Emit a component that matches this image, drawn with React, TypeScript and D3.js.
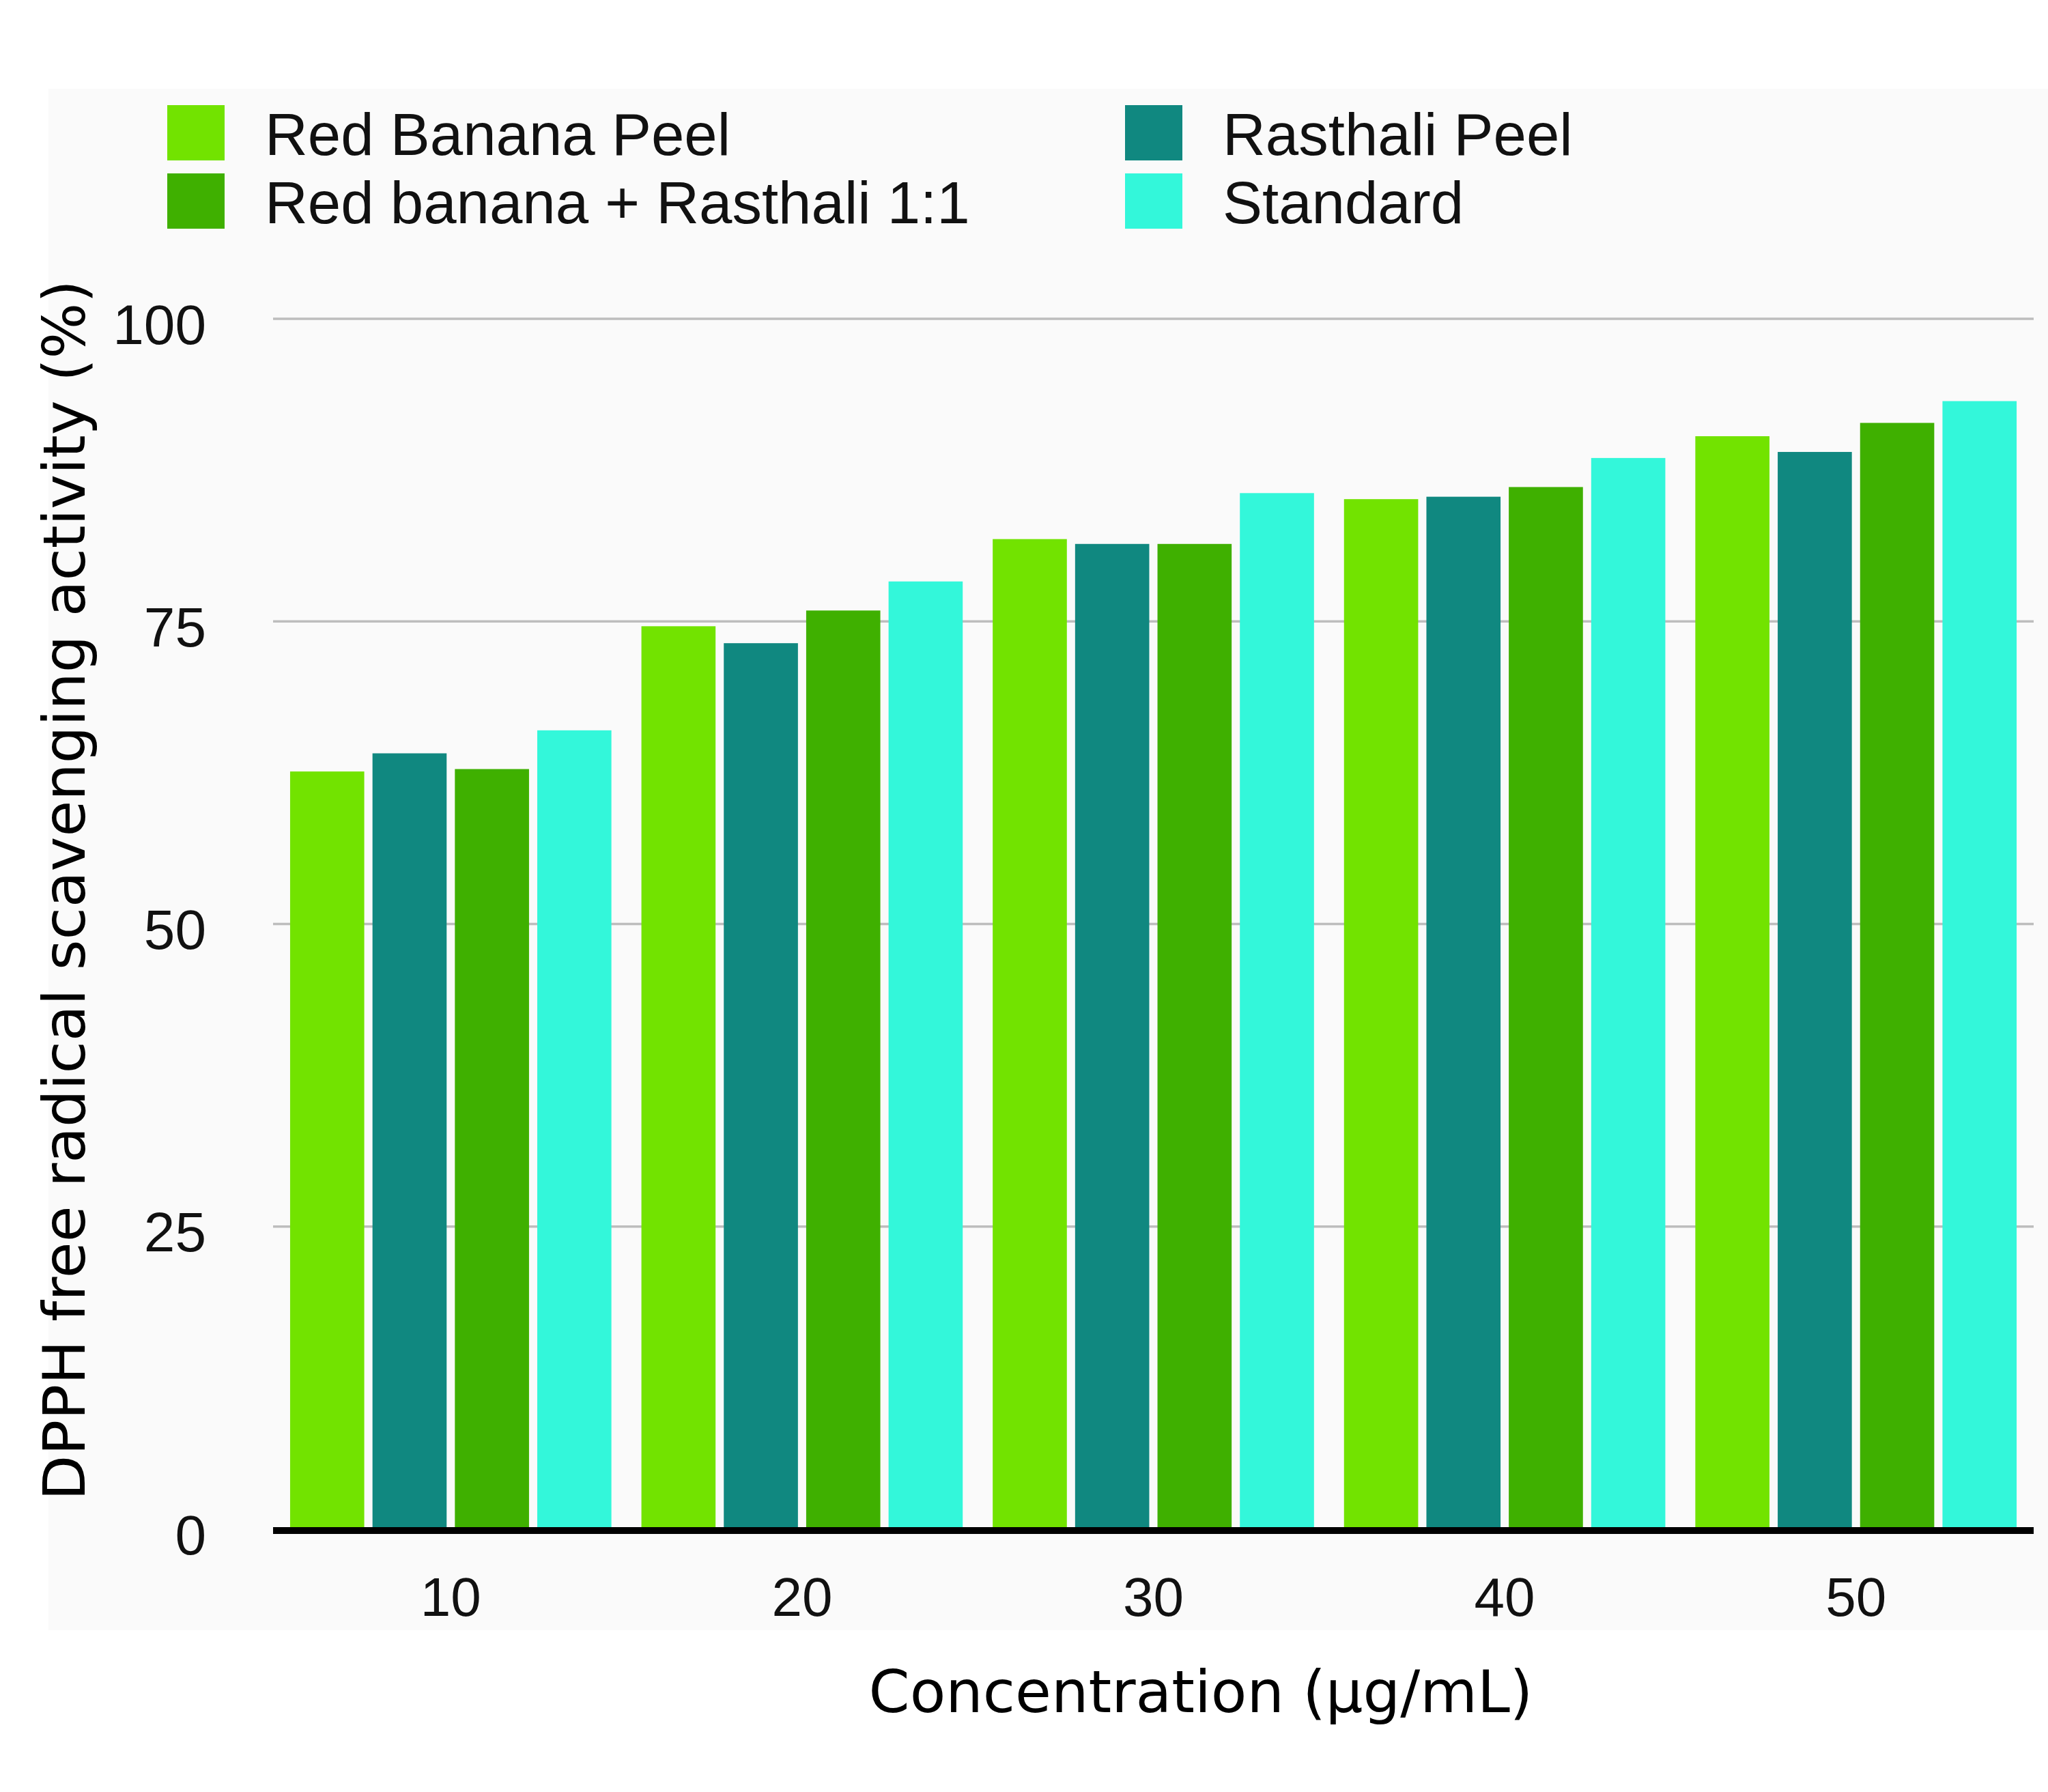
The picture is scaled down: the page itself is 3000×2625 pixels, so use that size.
import * as d3 from "d3";
import React, { useEffect, useRef } from "react";

// concentrations on the x axis (µg/mL)
const concentrations = ["10", "20", "30", "40", "50"];

const seriesNames = [
  "Red Banana Peel",
  "Rasthali Peel",
  "Red banana + Rasthali 1:1",
  "Standard",
];

const redBananaPeel = [62.6, 74.6, 81.8, 85.1, 90.3];
const rasthaliPeel = [64.1, 73.2, 81.4, 85.3, 89.0];
const redBananaRasthali = [62.8, 75.9, 81.4, 86.1, 91.4];
const standard = [66.0, 78.3, 85.6, 88.5, 93.2];

const seriesColors = ["#72e300", "#108880", "#3fb000", "#33f7da"];
const yTicks = [0, 25, 50, 75, 100];

const App: React.FC = () => {
  const svgRef = useRef<SVGSVGElement | null>(null);

  useEffect(() => {
    if (!svgRef.current) return;
    const svg = d3.select(svgRef.current);
    svg.selectAll("*").remove();

    const width = 3000;
    const height = 2625;
    const plot = { left: 400, right: 2979, top: 467, bottom: 2240 };
    const sans = "'Liberation Sans', Arial, sans-serif";
    const dejavu = "'DejaVu Sans', sans-serif";

    const allSeries = [redBananaPeel, rasthaliPeel, redBananaRasthali, standard];

    // page + chart panel
    svg.append("rect").attr("width", width).attr("height", height).attr("fill", "#ffffff");
    svg
      .append("rect")
      .attr("x", 71)
      .attr("y", 130)
      .attr("width", width - 71)
      .attr("height", 2388 - 130)
      .attr("fill", "#fafafa");

    // Scales
    const x0 = d3
      .scaleBand<string>()
      .domain(concentrations)
      .range([plot.left, plot.right])
      .paddingInner(0.0854)
      .paddingOuter(0.0485);

    const x1 = d3
      .scaleBand<number>()
      .domain(d3.range(seriesNames.length))
      .range([0, x0.bandwidth()])
      .paddingInner(0.1)
      .paddingOuter(0);

    const y = d3.scaleLinear().domain([0, 100]).range([plot.bottom, plot.top]);

    // === Gridlines ===
    svg
      .append("g")
      .selectAll("line")
      .data(yTicks.filter((t) => t > 0))
      .enter()
      .append("line")
      .attr("x1", plot.left)
      .attr("x2", plot.right)
      .attr("y1", (d) => y(d))
      .attr("y2", (d) => y(d))
      .attr("stroke", "#bdbdbd")
      .attr("stroke-width", 3.5);

    // === Y tick labels ===
    svg
      .append("g")
      .selectAll("text")
      .data(yTicks)
      .enter()
      .append("text")
      .attr("x", 302)
      .attr("y", (d) => y(d) + 8)
      .attr("text-anchor", "end")
      .attr("dominant-baseline", "central")
      .attr("font-family", sans)
      .attr("font-size", 82)
      .attr("fill", "#111")
      .text((d) => String(d));

    // === Bars ===
    const groups = svg
      .append("g")
      .selectAll("g")
      .data(concentrations)
      .enter()
      .append("g")
      .attr("transform", (d) => `translate(${x0(d)},0)`);

    groups
      .selectAll("rect")
      .data((_, ci) => allSeries.map((s, si) => ({ si, value: s[ci] })))
      .enter()
      .append("rect")
      .attr("x", (d) => x1(d.si)!)
      .attr("width", x1.bandwidth())
      .attr("y", (d) => y(d.value))
      .attr("height", (d) => y(0) - y(d.value))
      .attr("fill", (d) => seriesColors[d.si]);

    // === Baseline ===
    svg
      .append("line")
      .attr("x1", plot.left)
      .attr("x2", plot.right)
      .attr("y1", y(0) + 2)
      .attr("y2", y(0) + 2)
      .attr("stroke", "#000")
      .attr("stroke-width", 10);

    // === X tick labels ===
    svg
      .append("g")
      .selectAll("text")
      .data(concentrations)
      .enter()
      .append("text")
      .attr("x", (d) => x0(d)! + x0.bandwidth() / 2)
      .attr("y", 2367)
      .attr("text-anchor", "middle")
      .attr("font-family", sans)
      .attr("font-size", 80)
      .attr("fill", "#111")
      .text((d) => d);

    // === Legend (2 columns, row-major) ===
    const legendCols = [245, 1648];
    const legendRows = [154, 254];
    const legend = svg
      .append("g")
      .selectAll("g")
      .data(seriesNames)
      .enter()
      .append("g")
      .attr(
        "transform",
        (_, i) => `translate(${legendCols[i % 2]},${legendRows[Math.floor(i / 2)]})`
      );
    legend
      .append("rect")
      .attr("width", 84)
      .attr("height", 81)
      .attr("fill", (_, i) => seriesColors[i]);
    legend
      .append("text")
      .attr("x", 143)
      .attr("y", 73)
      .attr("font-family", sans)
      .attr("font-size", 87)
      .attr("fill", "#111")
      .text((d) => d);

    // === Axis titles ===
    svg
      .append("text")
      .attr("transform", "translate(124,1304) rotate(-90)")
      .attr("text-anchor", "middle")
      .attr("font-family", dejavu)
      .attr("font-size", 86)
      .attr("fill", "#000")
      .text("DPPH free radical scavenging activity (%)");

    svg
      .append("text")
      .attr("x", 1759)
      .attr("y", 2508)
      .attr("text-anchor", "middle")
      .attr("font-family", dejavu)
      .attr("font-size", 86)
      .attr("fill", "#000")
      .text("Concentration (μg/mL)");
  }, []);

  return (
    <svg
      ref={svgRef}
      width={3000}
      height={2625}
      style={{ position: "absolute", left: 0, top: 0, display: "block" }}
    ></svg>
  );
};

export default App;
